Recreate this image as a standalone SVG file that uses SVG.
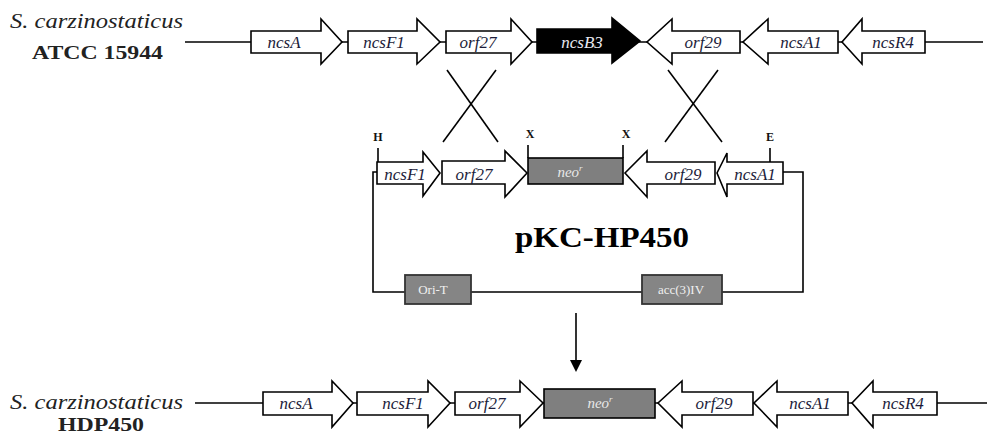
<svg xmlns="http://www.w3.org/2000/svg" width="987" height="434" viewBox="0 0 987 434">
<style>
.bg{fill:#ffffff}
.ln{stroke:#000;stroke-width:1.6;fill:none}
.ar{fill:#fff;stroke:#000;stroke-width:1.6;stroke-linejoin:miter}
.blk{fill:#000;stroke:#000;stroke-width:1.6}
.neo{fill:#7f7f7f;stroke:#000;stroke-width:1.6}
.mk{fill:#858585;stroke:#333;stroke-width:1.8}
.g{font-family:"Liberation Serif",serif;font-style:italic;font-size:17px;fill:#1c1c3a;text-anchor:middle}
.gw{font-family:"Liberation Serif",serif;font-style:italic;font-size:15px;fill:#e8e8e8;text-anchor:middle}
.sp{font-family:"Liberation Serif",serif;font-style:italic;font-size:20px;fill:#222}
.st{font-family:"Liberation Serif",serif;font-weight:bold;font-size:19px;fill:#222}
.site{font-family:"Liberation Serif",serif;font-weight:bold;font-size:12px;fill:#111;text-anchor:middle}
.mt{font-family:"Liberation Serif",serif;font-size:13px;fill:#f0f0f0;text-anchor:middle}
.title{font-family:"Liberation Serif",serif;font-weight:bold;font-size:30px;fill:#000;text-anchor:middle}
</style>
<rect class="bg" x="0" y="0" width="987" height="434"/>

<g id="labels">
<text class="sp" x="10" y="28" textLength="173" lengthAdjust="spacingAndGlyphs">S. carzinostaticus</text>
<text class="st" x="32" y="59" textLength="131" lengthAdjust="spacingAndGlyphs">ATCC 15944</text>
<text class="sp" x="10" y="409" textLength="173" lengthAdjust="spacingAndGlyphs">S. carzinostaticus</text>
<text class="st" x="58" y="431" font-size="17" textLength="86" lengthAdjust="spacingAndGlyphs">HDP450</text>
</g>

<g id="connectors">
<line class="ln" x1="185" y1="42" x2="983" y2="42"/>
<line class="ln" x1="447" y1="70" x2="498" y2="142"/>
<line class="ln" x1="496" y1="70" x2="443" y2="142"/>
<line class="ln" x1="668" y1="70" x2="722" y2="142"/>
<line class="ln" x1="718" y1="70" x2="665" y2="142"/>
<path class="ln" d="M377,172 H373 V292 H803 V172 H783"/>
<line class="ln" x1="378" y1="148" x2="378" y2="163"/>
<line class="ln" x1="770" y1="148" x2="770" y2="166"/>
<line class="ln" x1="528" y1="145" x2="528" y2="158"/>
<line class="ln" x1="623" y1="145" x2="623" y2="158"/>
<line class="ln" x1="576" y1="313" x2="576" y2="362"/>
<polygon points="570,360 582,360 576,372" fill="#000"/>
<line class="ln" x1="195" y1="403" x2="987" y2="403"/>
</g>

<!-- top row -->
<g id="top-ncsA"><path class="ar" d="M251,31 H321 V19 L342,42 L321,64 V53 H251 Z"/><text class="g" x="284" y="48">ncsA</text></g>
<g id="top-ncsF1"><path class="ar" d="M348,31 H417 V19 L440,42 L417,64 V53 H348 Z"/><text class="g" x="384" y="48">ncsF1</text></g>
<g id="top-orf27"><path class="ar" d="M446,31 H511 V19 L532,42 L511,64 V53 H446 Z"/><text class="g" x="478" y="48">orf27</text></g>
<g id="top-ncsB3"><path class="blk" d="M537,29 H612 V18 L640,41 L612,63 V53 H537 Z"/><text class="g" x="582" y="48" style="fill:#e8e8f0">ncsB3</text></g>
<g id="top-orf29"><path class="ar" d="M740,31 H672 V19 L647,42 L672,64 V53 H740 Z"/><text class="g" x="703" y="48">orf29</text></g>
<g id="top-ncsA1"><path class="ar" d="M838,31 H768 V19 L743,42 L768,64 V53 H838 Z"/><text class="g" x="801" y="48">ncsA1</text></g>
<g id="top-ncsR4"><path class="ar" d="M925,31 H862 V19 L842,42 L862,64 V53 H925 Z"/><text class="g" x="893" y="48">ncsR4</text></g>

<!-- plasmid -->
<g id="site-H"><text class="site" x="378" y="141">H</text></g>
<g id="site-X1"><text class="site" x="530" y="138">X</text></g>
<g id="site-X2"><text class="site" x="626" y="138">X</text></g>
<g id="site-E"><text class="site" x="770" y="141">E</text></g>
<g id="mid-ncsF1"><path class="ar" d="M377,162 H423 V152 L440,173 L423,196 V184 H377 Z"/><text class="g" x="405" y="180">ncsF1</text></g>
<g id="mid-orf27"><path class="ar" d="M442,161 H505 V151 L527,173 L505,197 V184 H442 Z"/><text class="g" x="474" y="180">orf27</text></g>
<g id="mid-neo"><rect class="neo" x="528" y="158" width="95" height="26"/><text class="gw" x="570" y="177">neo<tspan dy="-6" font-size="9">r</tspan></text></g>
<g id="mid-orf29"><path class="ar" d="M715,162 H647 V151 L625,173 L647,197 V184 H715 Z"/><text class="g" x="683" y="180">orf29</text></g>
<g id="mid-ncsA1"><path class="ar" d="M783,162 H727 V153 L717,173 L727,197 V184 H783 Z"/><text class="g" x="755" y="180">ncsA1</text></g>
<g id="title"><text class="title" x="602" y="247" textLength="174" lengthAdjust="spacingAndGlyphs">pKC-HP450</text></g>
<g id="oriT"><rect class="mk" x="405" y="275" width="66" height="29"/><text class="mt" x="433" y="294">Ori-T</text></g>
<g id="acc"><rect class="mk" x="642" y="275" width="80" height="29"/><text class="mt" x="681" y="294" font-size="12">acc(3)IV</text></g>

<!-- bottom row -->
<g id="bot-ncsA"><path class="ar" d="M263,392 H332 V381 L353,403 L332,427 V415 H263 Z"/><text class="g" x="296" y="409">ncsA</text></g>
<g id="bot-ncsF1"><path class="ar" d="M357,392 H428 V381 L450,403 L428,427 V415 H357 Z"/><text class="g" x="403" y="409">ncsF1</text></g>
<g id="bot-orf27"><path class="ar" d="M455,392 H520 V381 L543,403 L520,427 V415 H455 Z"/><text class="g" x="487" y="409">orf27</text></g>
<g id="bot-neo"><rect class="neo" x="544" y="389" width="111" height="29"/><text class="gw" x="600" y="408">neo<tspan dy="-6" font-size="9">r</tspan></text></g>
<g id="bot-orf29"><path class="ar" d="M753,392 H682 V381 L658,403 L682,427 V415 H753 Z"/><text class="g" x="714" y="409">orf29</text></g>
<g id="bot-ncsA1"><path class="ar" d="M848,392 H777 V381 L754,403 L777,427 V415 H848 Z"/><text class="g" x="810" y="409">ncsA1</text></g>
<g id="bot-ncsR4"><path class="ar" d="M937,392 H873 V381 L852,403 L873,427 V415 H937 Z"/><text class="g" x="903" y="409">ncsR4</text></g>
</svg>
